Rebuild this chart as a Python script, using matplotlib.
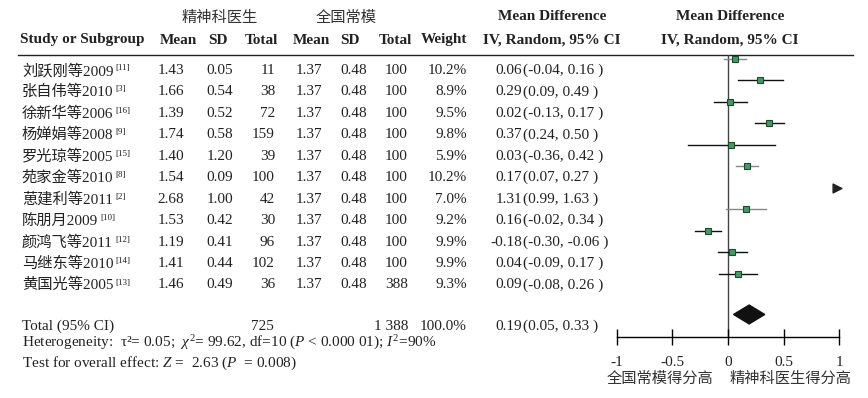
import matplotlib.pyplot as plt
from matplotlib.patches import Polygon

plt.rcParams['axes.unicode_minus'] = False
plt.rcParams['mathtext.fontset'] = 'custom'
plt.rcParams['mathtext.rm'] = 'Liberation Serif'
plt.rcParams['mathtext.it'] = 'Liberation Serif:italic'
plt.rcParams['mathtext.bf'] = 'Liberation Serif:bold'

# data
studies = ["刘跃刚等2009", "张自伟等2010", "徐新华等2006", "杨婵娟等2008", "罗光琼等2005",
           "苑家金等2010", "葸建利等2011", "陈朋月2009", "颜鸿飞等2011", "马继东等2010",
           "黄国光等2005"]
refs = ["[11]", "[3]", "[16]", "[9]", "[15]", "[8]", "[2]", "[10]", "[12]", "[14]", "[13]"]
psy_mean = [1.43, 1.66, 1.39, 1.74, 1.40, 1.54, 2.68, 1.53, 1.19, 1.41, 1.46]
psy_sd = [0.05, 0.54, 0.52, 0.58, 1.20, 0.09, 1.00, 0.42, 0.41, 0.44, 0.49]
psy_n = [11, 38, 72, 159, 39, 100, 42, 30, 96, 102, 36]
norm_mean = [1.37, 1.37, 1.37, 1.37, 1.37, 1.37, 1.37, 1.37, 1.37, 1.37, 1.37]
norm_sd = [0.48, 0.48, 0.48, 0.48, 0.48, 0.48, 0.48, 0.48, 0.48, 0.48, 0.48]
norm_n = [100, 100, 100, 100, 100, 100, 100, 100, 100, 100, 388]
weights = [10.2, 8.9, 9.5, 9.8, 5.9, 10.2, 7.0, 9.2, 9.9, 9.9, 9.3]
md = [0.06, 0.29, 0.02, 0.37, 0.03, 0.17, 1.31, 0.16, -0.18, 0.04, 0.09]
ci_low = [-0.04, 0.09, -0.13, 0.24, -0.36, 0.07, 0.99, -0.02, -0.30, -0.09, -0.08]
ci_high = [0.16, 0.49, 0.17, 0.50, 0.42, 0.27, 1.63, 0.34, -0.06, 0.17, 0.26]
total_psy = "725"
total_norm = "1 388"
total_weight = "100.0%"
total_md = 0.19
total_low = 0.05
total_high = 0.33
xticks = [-1, -0.5, 0, 0.5, 1]
xtick_labels = ["-1", "-0.5", "0", "0.5", "1"]

# CI line colours as printed (some lighter)
line_colors = ["#888888", "#111111", "#111111", "#111111", "#111111", "#888888",
               "#111111", "#888888", "#111111", "#111111", "#111111"]

SERIF = ['Liberation Serif', 'Noto Sans CJK SC']
CJK = ['Noto Sans CJK SC', 'Liberation Serif']
TXT = '#222222'
FS = 11

fig = plt.figure(figsize=(8.68, 3.98), dpi=100)

# table layer in pixel coordinates
tab = fig.add_axes([0, 0, 1, 1])
tab.set_xlim(0, 868)
tab.set_ylim(398, 0)
tab.axis('off')


def put(x, y, s, ha='left', weight='normal', fam=SERIF, size=FS, color=TXT):
    return tab.text(x, y, s, ha=ha, va='center', fontsize=size, fontweight=weight,
                    family=fam, color=color)


# group headers
put(220, 17, "精神科医生", ha='center', fam=CJK, size=11, color='#333333')
put(346, 17, "全国常模", ha='center', fam=CJK, size=11, color='#333333')
put(552, 17, "Mean Difference", ha='center', weight='bold')
put(730, 17, "Mean Difference", ha='center', weight='bold')

# column headers
hy = 40
put(20, hy, "Study or Subgroup", weight='bold')
put(178, hy, "Mean", ha='center', weight='bold')
put(228, hy, "SD", ha='right', weight='bold')
put(278, hy, "Total", ha='right', weight='bold')
put(311, hy, "Mean", ha='center', weight='bold')
put(350, hy, "SD", ha='center', weight='bold')
put(412, hy, "Total", ha='right', weight='bold')
put(467, hy, "Weight", ha='right', weight='bold')
put(552, hy, "IV, Random, 95% CI", ha='center', weight='bold')
put(730, hy, "IV, Random, 95% CI", ha='center', weight='bold')

tab.plot([18, 853], [55, 55], color='#222222', lw=1)

# study rows
for i in range(len(studies)):
    y = 70.5 + 21.45 * i
    t = put(22, y, studies[i], size=11)
    tab.annotate(refs[i], xy=(1, 0.95), xycoords=t, xytext=(1.5, 0),
                 textcoords='offset points', va='top', ha='left',
                 fontsize=6.5, family=SERIF, color=TXT)
    put(184, y, f"{psy_mean[i]:.2f}", ha='right')
    put(233, y, f"{psy_sd[i]:.2f}", ha='right')
    put(275, y, f"{psy_n[i]}", ha='right')
    put(322, y, f"{norm_mean[i]:.2f}", ha='right')
    put(367, y, f"{norm_sd[i]:.2f}", ha='right')
    put(408, y, f"{norm_n[i]}", ha='right')
    put(467, y, f"{weights[i]:.1f}%", ha='right')
    put(522, y, f"{md[i]:.2f}", ha='right')
    put(523, y, f"({ci_low[i]:.2f}, {ci_high[i]:.2f} )", ha='left')

# totals and footer
ty = 326
put(22, ty, "Total (95% CI)")
put(274, ty, total_psy, ha='right')
put(408, ty, total_norm, ha='right')
put(467, ty, total_weight, ha='right')
put(522, ty, f"{total_md:.2f}", ha='right')
put(523, ty, f"({total_low:.2f}, {total_high:.2f} )", ha='left')
put(22, 343, r"Heterogeneity:  τ²= 0.05;  $\chi^2$= 99.62, df=10 ($P$ < 0.000 01); $I^2$=90%")
put(22, 363, r"Test for overall effect: $Z$ =  2.63 ($P$  = 0.008)")

put(660, 378, "全国常模得分高", ha='center', fam=CJK, size=11, color='#333333')
put(791, 378, "精神科医生得分高", ha='center', fam=CJK, size=11, color='#333333')

# forest plot axes: x from -1 (px 616.7) to 1 (px 839.3), axis line at px 337
ax = fig.add_axes([616.7 / 868, (398 - 337) / 398, 222.6 / 868, (337 - 55) / 398])
ax.patch.set_alpha(0)
ax.set_xlim(-1, 1)
ax.set_ylim(12.96, -0.186)
for s in ['left', 'right', 'top']:
    ax.spines[s].set_visible(False)
ax.spines['bottom'].set_linewidth(1)
ax.set_yticks([])
ax.set_xticks(xticks)
ax.set_xticklabels(xtick_labels, family=SERIF, fontsize=FS, color=TXT)
ax.tick_params(axis='x', direction='inout', length=11, width=1, pad=8)
ax.axvline(0, color='#444444', lw=1, zorder=1)

xmax = ax.get_xlim()[1]
for i in range(len(studies)):
    if md[i] > xmax:
        # estimate lies beyond the axis: draw an arrow head at the edge
        ax.scatter([xmax - 0.025], [i], marker='>', s=40, color='#222222',
                   clip_on=False, zorder=3)
        continue
    ax.plot([ci_low[i], ci_high[i]], [i, i], color=line_colors[i], lw=1, zorder=2)
    ax.plot(md[i], i, 's', ms=4.5, mfc='#3f9d63', mec='#1d4a2c', mew=0.8, zorder=3)

yd = 11.91
h = 0.44
ax.add_patch(Polygon([(total_low, yd), (total_md, yd - h), (total_high, yd),
                      (total_md, yd + h)], closed=True, color='#111111', zorder=3))

fig.savefig("out.png", dpi=100)
